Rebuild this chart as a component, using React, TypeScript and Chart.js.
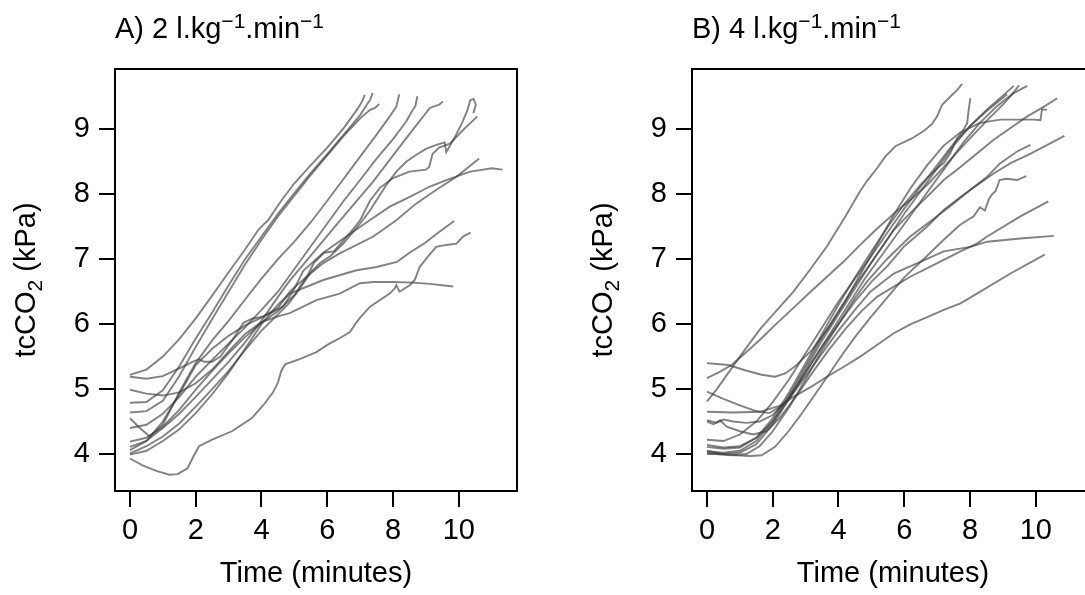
import React, { useEffect, useRef } from "react";
import { Chart, registerables } from "chart.js";

Chart.register(...registerables);

type Pt = [number, number];

// ---------- axis / text data ----------
const xTicks = [0, 2, 4, 6, 8, 10];
const yTicks = [4, 5, 6, 7, 8, 9];
const xTitle = "Time (minutes)";
const yTitleParts = ["tcCO", "2", " (kPa)"]; // middle part is a subscript
const titleAParts = ["A) 2 l.kg", "\u22121", ".min", "\u22121"]; // odd parts are superscripts
const titleBParts = ["B) 4 l.kg", "\u22121", ".min", "\u22121"];
const xRange = [-0.455, 11.77];
const yRange = [3.43, 9.93];

// ---------- Panel A series (time in minutes, tcCO2 in kPa) ----------
const a01: Pt[] = [[0,5.22],[0.5,5.3],[1,5.5],[1.5,5.77],[2,6.09],[2.5,6.44],[3,6.8],[3.5,7.15],[3.9,7.45],[4.05,7.53],[4.2,7.6],[4.6,7.9],[5,8.17],[5.5,8.45],[6,8.72],[6.5,9.02],[6.9,9.3],[7.05,9.42],[7.14,9.53]];
const a02: Pt[] = [[0,4.79],[0.5,4.8],[1,4.98],[1.5,5.35],[2,5.78],[2.5,6.18],[3,6.6],[3.5,7],[4,7.35],[4.5,7.7],[5,8.02],[5.5,8.33],[6,8.62],[6.5,8.92],[7,9.22],[7.2,9.38],[7.3,9.45],[7.38,9.56]];
const a03: Pt[] = [[0,4.64],[0.5,4.66],[1,4.82],[1.5,5.2],[2,5.65],[2.5,6.08],[3,6.5],[3.5,6.92],[4,7.3],[4.5,7.66],[5,7.98],[5.5,8.3],[6,8.6],[6.5,8.9],[7,9.17],[7.3,9.3],[7.45,9.33],[7.58,9.39]];
const a04: Pt[] = [[0,4.55],[0.3,4.4],[0.6,4.27],[1,4.45],[1.5,4.95],[2,5.4],[2.5,5.75],[3,6.05],[3.5,6.38],[4,6.7],[4.5,7.0],[5,7.27],[5.5,7.57],[6,7.9],[6.5,8.24],[7,8.58],[7.5,8.92],[7.9,9.2],[8.1,9.35],[8.19,9.54]];
const a05: Pt[] = [[0,4.4],[0.5,4.45],[1,4.62],[1.5,4.88],[2,5.19],[2.5,5.45],[3,5.7],[3.5,5.95],[4,6.22],[4.5,6.5],[5,6.85],[5.5,7.2],[6,7.55],[6.5,7.9],[7,8.22],[7.5,8.55],[8,8.85],[8.4,9.12],[8.6,9.3],[8.68,9.36],[8.74,9.51]];
const a06: Pt[] = [[0,4.11],[0.5,4.2],[1,4.4],[1.5,4.62],[2,4.88],[2.5,5.15],[3,5.42],[3.5,5.72],[4,6.05],[4.5,6.42],[4.86,6.67],[5.37,6.98],[6.38,7.59],[7.4,8.2],[8.41,8.87],[9.12,9.33],[9.4,9.38],[9.52,9.43]];
const a07: Pt[] = [[0,4.01],[0.5,4.12],[1,4.27],[1.5,4.47],[2,4.73],[2.5,5.0],[3,5.28],[3.5,5.6],[4,5.9],[4.5,6.15],[4.8,6.3],[5.1,6.5],[5.5,6.8],[5.8,6.95],[6.1,7.05],[6.5,7.25],[7,7.55],[7.3,7.75],[7.79,8.14],[8.1,8.35],[8.4,8.5],[8.71,8.61],[9,8.7],[9.32,8.76],[9.57,8.8],[9.62,8.65],[9.7,8.72],[9.9,8.9],[10.1,9.1],[10.25,9.28],[10.35,9.45],[10.45,9.47],[10.52,9.38],[10.44,9.25]];
const a08: Pt[] = [[0,4.19],[0.5,4.25],[1,4.42],[1.5,4.68],[2,4.99],[2.5,5.28],[3,5.55],[3.5,5.8],[4,6.02],[4.5,6.2],[5,6.45],[5.4,6.75],[5.6,6.95],[5.9,7.1],[6.2,7.12],[6.6,7.35],[7,7.6],[7.3,7.9],[7.6,8.1],[8,8.25],[8.5,8.35],[9,8.38],[9.1,8.42],[9.2,8.62],[9.4,8.72],[9.73,8.78],[10.13,8.99],[10.4,9.12],[10.56,9.2]];
const a09: Pt[] = [[0,4.06],[0.5,4.2],[1,4.5],[1.5,4.92],[2,5.37],[2.5,5.62],[3,5.82],[3.5,5.98],[4,6.1],[4.5,6.25],[4.86,6.5],[5.37,6.73],[5.88,6.94],[6.38,7.09],[7.4,7.35],[8.1,7.6],[8.71,7.86],[9.32,8.07],[9.93,8.27],[10.3,8.42],[10.62,8.55]];
const a10: Pt[] = [[0,5.19],[0.5,5.16],[1,5.2],[1.5,5.32],[1.9,5.42],[2.1,5.46],[2.25,5.42],[2.5,5.42],[2.75,5.5],[3.15,5.78],[3.45,6.02],[3.7,6.08],[4.05,6.12],[4.4,6.2],[4.66,6.27],[5,6.55],[5.27,6.82],[5.88,7.1],[6.58,7.35],[7.29,7.6],[7.9,7.81],[8.51,7.96],[9.12,8.12],[9.62,8.22],[10.34,8.35],[10.74,8.38],[11,8.4],[11.33,8.38]];
const a11: Pt[] = [[0,3.99],[0.5,4.05],[1,4.2],[1.5,4.38],[2,4.63],[2.5,4.92],[3,5.25],[3.5,5.62],[4,6],[4.5,6.3],[4.86,6.47],[5.88,6.68],[6.89,6.83],[7.5,6.88],[8.12,6.96],[8.5,7.1],[8.94,7.24],[9.4,7.42],[9.86,7.59]];
const a12: Pt[] = [[0,4.99],[0.5,4.93],[1,4.9],[1.5,4.95],[2,5.09],[2.5,5.3],[3,5.58],[3.5,5.85],[4,6.03],[4.5,6.12],[4.86,6.17],[5.67,6.37],[6.38,6.47],[6.99,6.63],[7.4,6.65],[8,6.65],[8.61,6.64],[9.12,6.62],[9.83,6.58]];
const a13: Pt[] = [[0,3.93],[0.4,3.82],[0.8,3.74],[1.2,3.68],[1.45,3.69],[1.75,3.78],[1.95,3.98],[2.1,4.12],[2.5,4.22],[3.1,4.35],[3.7,4.55],[4.1,4.78],[4.35,4.95],[4.5,5.1],[4.6,5.28],[4.72,5.38],[5.2,5.47],[5.67,5.57],[6,5.68],[6.4,5.79],[6.69,5.88],[6.85,6.0],[7,6.1],[7.3,6.27],[7.9,6.47],[8.05,6.55],[8.1,6.6],[8.2,6.5],[8.35,6.55],[8.51,6.6],[8.66,6.68],[8.81,6.88],[9.01,7.01],[9.31,7.19],[9.62,7.22],[9.93,7.24],[10.13,7.35],[10.36,7.41]];

// ---------- Panel B series ----------
const b01: Pt[] = [[0,4.81],[0.3,5.0],[0.65,5.25],[1,5.5],[1.61,5.92],[2.1,6.2],[2.63,6.5],[3.15,6.85],[3.65,7.2],[4.2,7.65],[4.66,8.05],[4.86,8.2],[5.2,8.42],[5.42,8.58],[5.73,8.74],[6.23,8.86],[6.6,8.98],[6.84,9.08],[7,9.2],[7.15,9.38],[7.45,9.53],[7.6,9.6],[7.76,9.7]];
const b02: Pt[] = [[0,5.17],[0.4,5.27],[0.75,5.37],[1.2,5.57],[1.61,5.76],[2.1,6.0],[2.63,6.25],[3.15,6.5],[3.65,6.73],[4.15,6.96],[4.66,7.22],[5.17,7.47],[5.68,7.7],[6.2,7.92],[6.69,8.14],[7.2,8.42],[7.7,8.7],[8.2,8.97],[8.6,9.18],[9,9.38],[9.3,9.55],[9.49,9.68]];
const b03: Pt[] = [[0,5.4],[0.65,5.37],[1.16,5.29],[1.66,5.22],[2.07,5.19],[2.38,5.24],[2.68,5.35],[3.19,5.6],[3.7,5.95],[4.2,6.35],[4.7,6.8],[5.2,7.25],[5.7,7.7],[6.2,8.1],[6.7,8.45],[7.2,8.75],[7.7,8.95],[8.3,9.1],[8.92,9.15],[9.5,9.15],[9.94,9.15],[10.14,9.14],[10.19,9.31],[10.34,9.3]];
const b04: Pt[] = [[0,4.22],[0.5,4.2],[1,4.3],[1.5,4.5],[2,4.8],[2.5,5.15],[3,5.55],[3.5,5.95],[4,6.35],[4.5,6.7],[5,7.05],[5.5,7.42],[6,7.78],[6.5,8.12],[7,8.45],[7.5,8.78],[8,9.05],[8.5,9.28],[9.13,9.54]];
const b05: Pt[] = [[0,4.04],[0.5,4.02],[1,4.05],[1.5,4.2],[2,4.5],[2.5,4.9],[3,5.35],[3.5,5.8],[4,6.2],[4.5,6.6],[5,6.95],[5.5,7.32],[6,7.7],[6.5,8.05],[7,8.4],[7.5,8.75],[8,9.05],[8.5,9.3],[9,9.52],[9.33,9.67]];
const b06: Pt[] = [[0,4.96],[0.5,4.85],[1,4.75],[1.5,4.66],[1.9,4.63],[2.3,4.75],[2.8,5.1],[3.3,5.5],[3.8,5.9],[4.3,6.3],[4.8,6.7],[5.3,7.05],[5.8,7.4],[6.3,7.75],[6.8,8.1],[7.3,8.45],[7.8,8.8],[8.3,9.1],[8.8,9.35],[9.3,9.55],[9.74,9.67]];
const b07: Pt[] = [[0,4.11],[0.5,4.08],[1,4.1],[1.5,4.25],[2,4.55],[2.5,4.95],[3,5.4],[3.5,5.85],[4,6.3],[4.5,6.72],[5,7.12],[5.5,7.5],[6,7.85],[6.5,8.15],[7,8.4],[7.2,8.48],[7.4,8.63],[7.6,8.86],[7.76,8.96],[7.91,9.09],[7.96,9.3],[8.01,9.48]];
const b08: Pt[] = [[0,4.0],[0.5,4.0],[1,4.02],[1.5,4.15],[2,4.45],[2.5,4.85],[3,5.3],[3.5,5.75],[4,6.15],[4.5,6.55],[5,6.95],[5.68,7.45],[6.18,7.71],[6.69,7.96],[7.2,8.22],[7.71,8.42],[8.21,8.63],[8.72,8.84],[9.23,9.02],[9.74,9.2],[10.25,9.35],[10.65,9.48]];
const b09: Pt[] = [[0,4.02],[0.4,3.99],[0.8,3.98],[1.2,4.0],[1.6,4.12],[2,4.35],[2.5,4.72],[3,5.15],[3.5,5.6],[4,6.0],[4.5,6.4],[4.86,6.65],[5.47,7.0],[6.18,7.35],[6.89,7.62],[7.5,7.86],[8.01,8.07],[8.52,8.27],[8.92,8.48],[9.43,8.66],[9.84,8.76]];
const b10: Pt[] = [[0,4.14],[0.5,4.1],[1,4.12],[1.5,4.25],[2,4.5],[2.5,4.85],[3,5.25],[3.5,5.65],[4,6.0],[4.5,6.35],[5,6.65],[5.5,6.9],[6,7.2],[6.69,7.5],[7.2,7.76],[7.71,7.96],[8.21,8.14],[8.72,8.32],[9.23,8.48],[9.74,8.6],[10.35,8.76],[10.87,8.9]];
const b11: Pt[] = [[0,4.05],[0.5,4.0],[0.9,3.98],[1.3,3.97],[1.66,3.98],[2.07,4.11],[2.48,4.35],[2.88,4.62],[3.29,4.92],[3.7,5.22],[4.1,5.52],[4.5,5.8],[5,6.12],[5.5,6.42],[6,6.72],[6.69,7.05],[7.2,7.3],[7.7,7.53],[8.11,7.66],[8.3,7.8],[8.45,7.75],[8.57,7.92],[8.67,8.0],[8.78,8.05],[8.9,8.22],[9.1,8.24],[9.43,8.22],[9.71,8.28]];
const b12: Pt[] = [[0,4.5],[0.2,4.46],[0.4,4.52],[0.6,4.42],[1,4.35],[1.4,4.3],[1.8,4.35],[2.2,4.55],[2.7,4.88],[3.2,5.25],[3.7,5.6],[4.2,5.92],[4.7,6.2],[5.17,6.42],[6.18,6.73],[7.2,6.99],[7.71,7.12],[8.21,7.24],[8.52,7.35],[9.53,7.66],[10.38,7.89]];
const b13: Pt[] = [[0,4.52],[0.3,4.48],[0.5,4.53],[0.8,4.5],[1.2,4.48],[1.6,4.5],[2,4.6],[2.5,4.85],[3,5.2],[3.5,5.55],[4,5.9],[4.5,6.22],[4.97,6.5],[5.68,6.78],[6.49,6.96],[7.2,7.12],[8.01,7.19],[8.52,7.27],[9.53,7.32],[10.55,7.36]];
const b14: Pt[] = [[0,4.65],[0.8,4.64],[1.61,4.65],[2.2,4.74],[2.63,4.88],[3.15,5.03],[3.65,5.19],[4.15,5.34],[4.66,5.5],[5.17,5.68],[5.68,5.86],[6.2,6.0],[6.7,6.11],[7.2,6.22],[7.71,6.32],[8.21,6.47],[9.23,6.78],[10.27,7.07]];

const seriesA: Pt[][] = [a01, a02, a03, a04, a05, a06, a07, a08, a09, a10, a11, a12, a13];
const seriesB: Pt[][] = [b01, b02, b03, b04, b05, b06, b07, b08, b09, b10, b11, b12, b13, b14];

// ---------- styling ----------
const FONT = "'Liberation Sans', Arial, Helvetica, sans-serif";
const LINE_COLOR = "rgba(60,60,60,0.64)";
const CW = 560;
const CH = 595;

function makeDecor(titleParts: string[]) {
  return {
    id: "decor",
    afterDraw(chart: any) {
      const { ctx, chartArea: ca } = chart;
      ctx.save();
      // frame box
      ctx.strokeStyle = "#000";
      ctx.lineWidth = 2;
      ctx.strokeRect(ca.left, ca.top, ca.right - ca.left, ca.bottom - ca.top);

      ctx.fillStyle = "#000";
      ctx.textBaseline = "alphabetic";
      ctx.textAlign = "left";
      // main title with superscripts
      let x = ca.left;
      titleParts.forEach((s, i) => {
        const sup = i % 2 === 1;
        ctx.font = `${sup ? 21 : 29}px ${FONT}`;
        ctx.fillText(s, x, sup ? 28 : 38);
        x += ctx.measureText(s).width;
      });

      // x-axis title
      ctx.font = `29px ${FONT}`;
      ctx.textAlign = "center";
      ctx.fillText(xTitle, (ca.left + ca.right) / 2, 582);

      // y-axis title (rotated, with subscript)
      const widths = yTitleParts.map((s, i) => {
        ctx.font = `${i === 1 ? 21 : 29}px ${FONT}`;
        return ctx.measureText(s).width;
      });
      const total = widths.reduce((p, c) => p + c, 0);
      ctx.translate(ca.left - 80, (ca.top + ca.bottom) / 2);
      ctx.rotate(-Math.PI / 2);
      ctx.textAlign = "left";
      let tx = -total / 2;
      yTitleParts.forEach((s, i) => {
        ctx.font = `${i === 1 ? 21 : 29}px ${FONT}`;
        ctx.fillText(s, tx, i === 1 ? 7 : 0);
        tx += widths[i];
      });
      ctx.restore();
    },
  };
}

function Panel({ series, titleParts, left }: { series: Pt[][]; titleParts: string[]; left: number }) {
  const ref = useRef<HTMLCanvasElement | null>(null);
  useEffect(() => {
    if (!ref.current) return;
    const tickFont = { family: FONT, size: 29 };
    const chart = new Chart(ref.current, {
      type: "scatter",
      data: {
        datasets: series.map((s) => ({
          data: s.map(([x, y]) => ({ x, y })),
          borderColor: LINE_COLOR,
          backgroundColor: LINE_COLOR,
          borderWidth: 1.9,
          showLine: true,
          pointRadius: 0,
          pointHoverRadius: 0,
          tension: 0,
          fill: false,
        })),
      },
      options: {
        animation: false,
        responsive: false,
        events: [],
        layout: { padding: { left: 0, top: 69, right: CW - 517, bottom: 0 } },
        plugins: { legend: { display: false }, tooltip: { enabled: false }, title: { display: false } },
        scales: {
          x: {
            type: "linear",
            min: xRange[0],
            max: xRange[1],
            afterBuildTicks: (scale: any) => {
              scale.ticks = xTicks.map((v) => ({ value: v }));
            },
            afterFit: (scale: any) => {
              scale.height = CH - 491;
            },
            border: { display: false },
            grid: { display: true, drawOnChartArea: false, drawTicks: true, tickLength: 16, tickWidth: 2, tickColor: "#000", color: "#000", lineWidth: 2 },
            ticks: { color: "#000", font: tickFont, padding: 7, autoSkip: false, maxRotation: 0, minRotation: 0 },
          },
          y: {
            type: "linear",
            min: yRange[0],
            max: yRange[1],
            afterBuildTicks: (scale: any) => {
              scale.ticks = yTicks.map((v) => ({ value: v }));
            },
            afterFit: (scale: any) => {
              scale.width = 115;
            },
            border: { display: false },
            grid: { display: true, drawOnChartArea: false, drawTicks: true, tickLength: 16, tickWidth: 2, tickColor: "#000", color: "#000", lineWidth: 2 },
            ticks: { color: "#000", font: tickFont, padding: 9, autoSkip: false },
          },
        },
      } as any,
      plugins: [makeDecor(titleParts)],
    });
    return () => chart.destroy();
  }, [series, titleParts]);
  return (
    <canvas
      ref={ref}
      width={CW}
      height={CH}
      style={{ position: "absolute", left, top: 0, width: CW, height: CH }}
    />
  );
}

export default function App() {
  return (
    <div style={{ position: "absolute", left: 0, top: 0, width: 1085, height: 595, overflow: "hidden", background: "#fff" }}>
      <Panel series={seriesA} titleParts={titleAParts} left={0} />
      <Panel series={seriesB} titleParts={titleBParts} left={577} />
    </div>
  );
}
